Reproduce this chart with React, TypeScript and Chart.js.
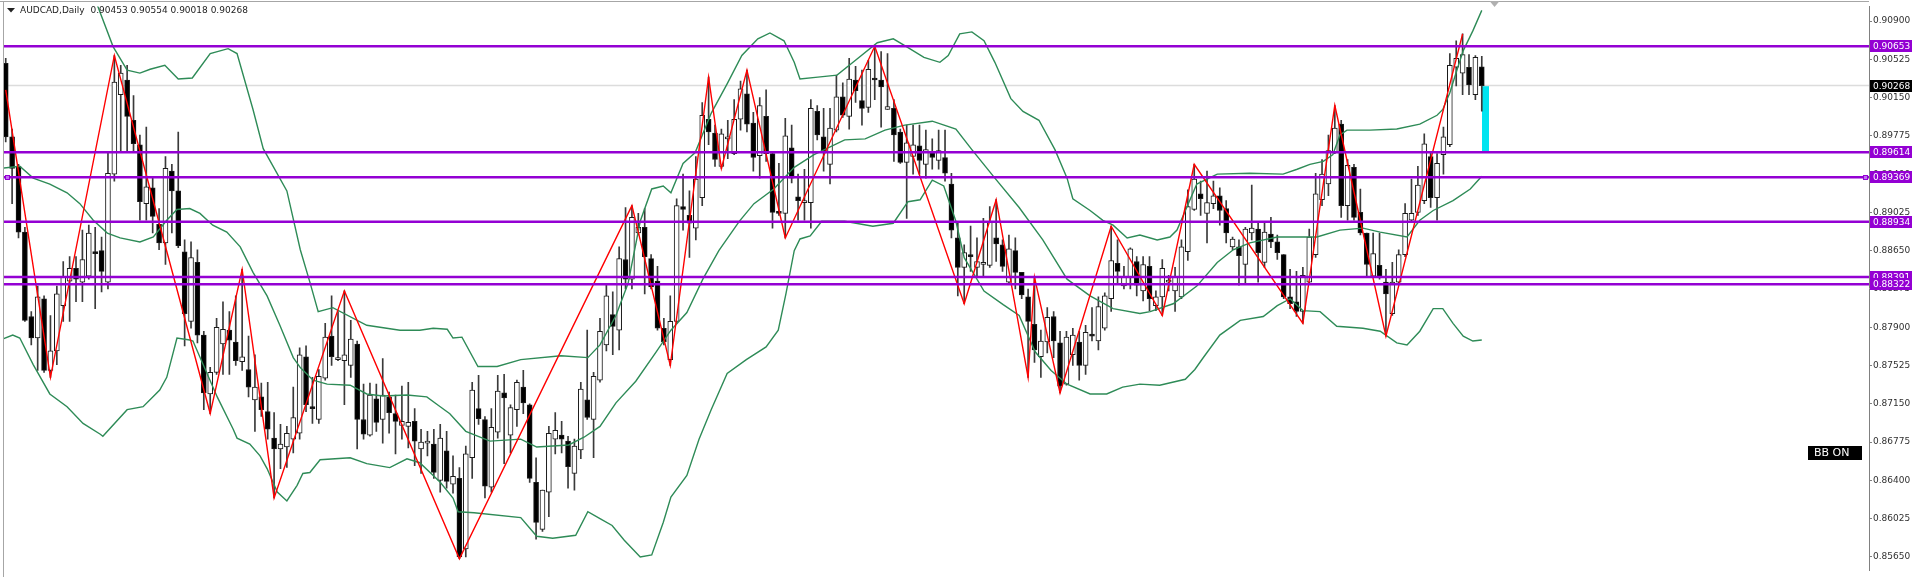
import React, { useEffect, useRef } from 'react';
import { Chart, registerables } from 'chart.js';

Chart.register(...registerables);

const symbol = 'AUDCAD';
const timeframe = 'Daily';

const opens = [
  0.90486, 0.89765, 0.89477, 0.88832, 0.88005, 0.87794, 0.88179, 0.87477, 0.87669, 0.88111,
  0.88352, 0.88477, 0.88342, 0.88400, 0.88631, 0.88650, 0.88342, 0.89400, 0.90178, 0.90323,
  0.89928, 0.89688, 0.89111, 0.89265, 0.88909, 0.88727, 0.89429, 0.89236, 0.88640, 0.87957,
  0.88535, 0.87823, 0.87246, 0.87457, 0.87736, 0.87871, 0.87755, 0.87563, 0.87486, 0.87188,
  0.87217, 0.87073, 0.86813, 0.86707, 0.86727, 0.86804, 0.86861, 0.87611, 0.87112, 0.86996,
  0.87400, 0.87813, 0.87582, 0.87573, 0.87525, 0.87736, 0.86996, 0.86842, 0.87198, 0.86996,
  0.87217, 0.87054, 0.86938, 0.86929, 0.86977, 0.86707, 0.86765, 0.86755, 0.86399, 0.86688,
  0.86361, 0.86419, 0.85727, 0.86621, 0.87102, 0.86996, 0.86332, 0.86871, 0.87256, 0.86842,
  0.87092, 0.87313, 0.87140, 0.86380, 0.85919, 0.86284, 0.86804, 0.86842, 0.86784, 0.86467,
  0.86698, 0.87188, 0.86996, 0.87381, 0.87727, 0.88025, 0.87871, 0.88564, 0.88371, 0.88823,
  0.88880, 0.88573, 0.88352, 0.87890, 0.87582, 0.87957, 0.89082, 0.88996, 0.88871, 0.89169,
  0.89938, 0.89803, 0.89477, 0.89746, 0.89601, 0.89938, 0.90188, 0.89900, 0.89582, 0.89967,
  0.89601, 0.89025, 0.89015, 0.89659, 0.89178, 0.89121, 0.89121, 0.90015, 0.89765, 0.89496,
  0.89832, 0.90159, 0.89967, 0.90323, 0.90121, 0.90053, 0.90342, 0.90323, 0.90034, 0.90044,
  0.89813, 0.89515, 0.89573, 0.89678, 0.89496, 0.89611, 0.89534, 0.89563, 0.89304, 0.88775,
  0.88486, 0.88602, 0.88486, 0.88515, 0.88506, 0.88775, 0.88707, 0.88342, 0.88650, 0.88438,
  0.88198, 0.87928, 0.87611, 0.87755, 0.88005, 0.87746, 0.87342, 0.87630, 0.87755, 0.87525,
  0.87823, 0.87765, 0.87890, 0.88179, 0.88525, 0.88304, 0.88390, 0.88544, 0.88256, 0.88496,
  0.88111, 0.88198, 0.88342, 0.88256, 0.88198, 0.88640, 0.89054, 0.89207, 0.89015, 0.89111,
  0.89188, 0.89063, 0.88688, 0.88688, 0.88515, 0.88823, 0.88861, 0.88535, 0.88813, 0.88736,
  0.88611, 0.88198, 0.88150, 0.88054, 0.88342, 0.88611, 0.89150, 0.89304, 0.89621, 0.89890,
  0.89092, 0.89467, 0.89025, 0.88823, 0.88400, 0.88506, 0.88342, 0.88034, 0.88342, 0.88611,
  0.88948, 0.89025, 0.89140, 0.89573, 0.89169, 0.89592, 0.89688, 0.90448, 0.90390, 0.90448,
  0.90178, 0.90453,
];

const highs = [
  0.90534, 0.89842, 0.89496, 0.88880, 0.88054, 0.88304, 0.88208, 0.88015, 0.88304, 0.88544,
  0.88592, 0.88592, 0.88852, 0.88900, 0.88880, 0.88784, 0.89621, 0.90563, 0.90467, 0.90467,
  0.90169, 0.89784, 0.89861, 0.89361, 0.89063, 0.89573, 0.89496, 0.89813, 0.88756, 0.88736,
  0.88659, 0.87861, 0.87506, 0.87986, 0.88150, 0.88054, 0.88208, 0.88467, 0.87813, 0.87630,
  0.87352, 0.87361, 0.87063, 0.86948, 0.86929, 0.87313, 0.87698, 0.87717, 0.87409, 0.87486,
  0.87938, 0.88208, 0.88054, 0.88256, 0.87967, 0.87765, 0.87342, 0.87352, 0.87342, 0.87592,
  0.87265, 0.87236, 0.87323, 0.87361, 0.87102, 0.86900, 0.86880, 0.86900, 0.86948, 0.86880,
  0.86640, 0.86525, 0.86736, 0.87361, 0.87429, 0.87025, 0.87102, 0.87429, 0.87438, 0.87140,
  0.87381, 0.87477, 0.87150, 0.86621, 0.86304, 0.86929, 0.87063, 0.86977, 0.86832, 0.86804,
  0.87361, 0.87871, 0.87457, 0.87986, 0.88323, 0.88246, 0.88688, 0.89073, 0.89092, 0.89015,
  0.89063, 0.88611, 0.88496, 0.87986, 0.88208, 0.89159, 0.89400, 0.89236, 0.89573, 0.90102,
  0.90351, 0.89880, 0.89842, 0.89928, 0.90130, 0.90313, 0.90419, 0.90005, 0.90150, 0.90227,
  0.89621, 0.89505, 0.89948, 0.89880, 0.89400, 0.89448, 0.90130, 0.90073, 0.90044, 0.90044,
  0.90371, 0.90294, 0.90534, 0.90457, 0.90419, 0.90515, 0.90653, 0.90601, 0.90582, 0.90130,
  0.89842, 0.89880, 0.89880, 0.89880, 0.89832, 0.89746, 0.89832, 0.89832, 0.89409, 0.88928,
  0.88707, 0.88890, 0.88775, 0.88967, 0.89082, 0.89150, 0.88756, 0.88804, 0.88775, 0.88438,
  0.88275, 0.88391, 0.87871, 0.88092, 0.88054, 0.87861, 0.87861, 0.87890, 0.87861, 0.87919,
  0.88092, 0.88198, 0.88236, 0.88890, 0.88756, 0.88496, 0.88679, 0.88592, 0.88592, 0.88592,
  0.88256, 0.88564, 0.88409, 0.88486, 0.88756, 0.89246, 0.89496, 0.89332, 0.89429, 0.89332,
  0.89265, 0.89140, 0.88784, 0.88756, 0.88880, 0.89294, 0.88928, 0.88928, 0.88977, 0.88804,
  0.88611, 0.88467, 0.88448, 0.88486, 0.88861, 0.89409, 0.89544, 0.89784, 0.90073, 0.89928,
  0.89544, 0.89496, 0.89255, 0.88823, 0.88823, 0.88823, 0.88467, 0.88535, 0.88659, 0.89111,
  0.89352, 0.89477, 0.89794, 0.89621, 0.89601, 0.89861, 0.90582, 0.90707, 0.90775, 0.90573,
  0.90563, 0.90554,
];

const lows = [
  0.89717, 0.89111, 0.88775, 0.87957, 0.87727, 0.87477, 0.87457, 0.87409, 0.87534, 0.87957,
  0.87957, 0.88150, 0.88150, 0.88371, 0.88082, 0.88246, 0.88275, 0.89332, 0.89621, 0.89621,
  0.89621, 0.88948, 0.88948, 0.88823, 0.88659, 0.88515, 0.88823, 0.88679, 0.87717, 0.87890,
  0.87746, 0.87092, 0.87054, 0.87438, 0.87438, 0.87438, 0.87525, 0.87477, 0.87217, 0.86880,
  0.87025, 0.86804, 0.86227, 0.86515, 0.86525, 0.86669, 0.86804, 0.87073, 0.86957, 0.86957,
  0.87381, 0.87525, 0.87573, 0.87140, 0.87409, 0.86707, 0.86804, 0.86832, 0.86880, 0.86765,
  0.86861, 0.86659, 0.86804, 0.86717, 0.86544, 0.86467, 0.86640, 0.86419, 0.86284, 0.86323,
  0.86275, 0.85631, 0.85650, 0.86419, 0.86948, 0.86227, 0.86284, 0.86813, 0.86563, 0.86669,
  0.86929, 0.87054, 0.86380, 0.85823, 0.85900, 0.86044, 0.86659, 0.86669, 0.86323, 0.86304,
  0.86611, 0.86996, 0.86621, 0.87361, 0.87669, 0.87630, 0.87678, 0.88275, 0.88275, 0.88804,
  0.88227, 0.88275, 0.87871, 0.87727, 0.87525, 0.87938, 0.88852, 0.88583, 0.88756, 0.89092,
  0.89688, 0.89477, 0.89457, 0.89553, 0.89592, 0.89832, 0.89813, 0.89429, 0.89361, 0.89525,
  0.88871, 0.88996, 0.88775, 0.89313, 0.88948, 0.88948, 0.88871, 0.89736, 0.89429, 0.89304,
  0.89813, 0.89957, 0.89842, 0.90102, 0.89880, 0.90005, 0.90130, 0.89861, 0.90034, 0.89525,
  0.89505, 0.88967, 0.89400, 0.89400, 0.89361, 0.89448, 0.89448, 0.89332, 0.88775, 0.88208,
  0.88131, 0.88448, 0.88390, 0.88390, 0.88486, 0.88544, 0.88448, 0.88323, 0.88275, 0.88179,
  0.87409, 0.87554, 0.87409, 0.87649, 0.87601, 0.87256, 0.87332, 0.87525, 0.87381, 0.87438,
  0.87765, 0.87678, 0.87871, 0.88054, 0.88323, 0.88275, 0.88275, 0.88208, 0.88159, 0.88063,
  0.88063, 0.88015, 0.88256, 0.88054, 0.88179, 0.88554, 0.89044, 0.88996, 0.88727, 0.89063,
  0.88900, 0.88727, 0.88659, 0.88313, 0.88323, 0.88756, 0.88342, 0.88486, 0.88679, 0.88564,
  0.88179, 0.88082, 0.88005, 0.87938, 0.88323, 0.88583, 0.89092, 0.89188, 0.89601, 0.88977,
  0.88948, 0.88948, 0.88804, 0.88400, 0.88400, 0.88371, 0.87813, 0.88015, 0.88323, 0.88592,
  0.88928, 0.88996, 0.89111, 0.89073, 0.88948, 0.89400, 0.89669, 0.90265, 0.90178, 0.90178,
  0.90130, 0.90018,
];

const closes = [
  0.89765, 0.89457, 0.88832, 0.87967, 0.87794, 0.88198, 0.87477, 0.87669, 0.88227, 0.88390,
  0.88477, 0.88371, 0.88564, 0.88823, 0.88621, 0.88448, 0.89409, 0.90303, 0.90390, 0.89967,
  0.89698, 0.89130, 0.89275, 0.88986, 0.88727, 0.89457, 0.89236, 0.88698, 0.88034, 0.88583,
  0.87823, 0.87256, 0.87457, 0.87899, 0.87880, 0.87774, 0.87573, 0.87611, 0.87313, 0.87313,
  0.87092, 0.86900, 0.86707, 0.86755, 0.86861, 0.87015, 0.87630, 0.87140, 0.87102, 0.87419,
  0.87803, 0.87611, 0.87582, 0.87630, 0.87784, 0.86996, 0.86852, 0.87236, 0.86967, 0.87236,
  0.87063, 0.86977, 0.86977, 0.86967, 0.86784, 0.86775, 0.86765, 0.86477, 0.86813, 0.86390,
  0.86438, 0.85650, 0.86659, 0.87284, 0.87005, 0.86342, 0.86919, 0.87275, 0.87207, 0.87112,
  0.87361, 0.87159, 0.86419, 0.85986, 0.86304, 0.86861, 0.86890, 0.86804, 0.86534, 0.86736,
  0.87294, 0.87015, 0.87419, 0.87861, 0.88208, 0.87909, 0.88573, 0.88371, 0.88977, 0.88880,
  0.88592, 0.88294, 0.87890, 0.87755, 0.87957, 0.89092, 0.89054, 0.88919, 0.89352, 0.89977,
  0.89813, 0.89544, 0.89794, 0.89746, 0.89938, 0.90236, 0.89890, 0.89563, 0.90073, 0.89601,
  0.89025, 0.89015, 0.89775, 0.89361, 0.89140, 0.89140, 0.90044, 0.89784, 0.89630, 0.89851,
  0.90159, 0.89977, 0.90332, 0.90217, 0.90044, 0.90428, 0.90323, 0.90255, 0.90063, 0.89784,
  0.89515, 0.89707, 0.89688, 0.89534, 0.89640, 0.89563, 0.89630, 0.89409, 0.88852, 0.88486,
  0.88631, 0.88592, 0.88544, 0.88535, 0.88938, 0.88717, 0.88496, 0.88669, 0.88438, 0.88217,
  0.87957, 0.87678, 0.87765, 0.87996, 0.87765, 0.87323, 0.87803, 0.87823, 0.87525, 0.87851,
  0.87813, 0.88102, 0.88208, 0.88554, 0.88448, 0.88390, 0.88669, 0.88313, 0.88515, 0.88179,
  0.88198, 0.88477, 0.88342, 0.88390, 0.88688, 0.89082, 0.89352, 0.89159, 0.89121, 0.89188,
  0.89044, 0.88823, 0.88765, 0.88602, 0.88861, 0.88871, 0.88631, 0.88832, 0.88736, 0.88631,
  0.88198, 0.88131, 0.88054, 0.88409, 0.88784, 0.89207, 0.89400, 0.89630, 0.89851, 0.89092,
  0.89486, 0.88977, 0.88823, 0.88515, 0.88621, 0.88390, 0.88227, 0.88342, 0.88611, 0.89015,
  0.89015, 0.89294, 0.89698, 0.89169, 0.89505, 0.89765, 0.90467, 0.90534, 0.90573, 0.90275,
  0.90544, 0.90268,
];

// Bollinger bands: [bar index, price]
const bbUpper = [
  [11.5, 0.91525], [14.3, 0.91063], [16.8, 0.9065], [19.0, 0.90419], [21.0, 0.9039], [22.6, 0.90428],
  [24.9, 0.90467], [27.0, 0.90332], [29.2, 0.90342], [32.0, 0.90582], [34.8, 0.9063], [36.2, 0.90582],
  [38.7, 0.90034], [40.3, 0.8965], [44.0, 0.89236], [46.1, 0.88659], [47.6, 0.88342], [48.9, 0.88053],
  [51.2, 0.88092], [56.5, 0.87919], [61.7, 0.87871], [64.8, 0.87871], [66.9, 0.8789], [69.1, 0.8788],
  [70.0, 0.87794], [71.4, 0.87803], [73.9, 0.87515], [76.9, 0.87515], [80.6, 0.87582], [86.9, 0.87621],
  [91.1, 0.87602], [93.0, 0.87727], [95.5, 0.88015], [97.4, 0.8833], [99.3, 0.88938], [101.1, 0.89255],
  [102.9, 0.89284], [104.1, 0.89217], [106.0, 0.89505], [107.9, 0.89611], [110.4, 0.89996], [112.9, 0.90284],
  [115.2, 0.90563], [117.7, 0.90726], [119.6, 0.90784], [121.8, 0.90707], [123.4, 0.90496], [124.3, 0.90332],
  [127.1, 0.90351], [130.1, 0.90371], [132.6, 0.90496], [136.4, 0.90688], [138.9, 0.90726], [140.7, 0.90659],
  [143.7, 0.90544], [146.2, 0.90496], [147.5, 0.90563], [149.3, 0.90775], [151.2, 0.90794], [153.1, 0.90707],
  [154.8, 0.90496], [157.3, 0.9014], [159.2, 0.90015], [161.7, 0.89928], [164.2, 0.8964], [166.1, 0.89361],
  [167.0, 0.89159], [169.7, 0.89044], [171.7, 0.88948], [173.3, 0.889], [175.5, 0.88775], [177.5, 0.88803],
  [180.2, 0.88755], [182.2, 0.88784], [183.3, 0.88852], [186.4, 0.89303], [189.6, 0.894], [194.7, 0.89409],
  [199.9, 0.894], [202.1, 0.89448], [204.1, 0.89496], [206.2, 0.89525], [207.7, 0.89592], [208.8, 0.89784],
  [209.9, 0.89832], [213.5, 0.89832], [217.7, 0.89842], [221.3, 0.8989], [224.0, 0.89977], [224.9, 0.90034],
  [226.0, 0.90198], [227.1, 0.90419], [228.1, 0.90611], [229.6, 0.90804], [231.0, 0.91005],
];

const bbMiddle = [
  [-0.9, 0.89457], [2.2, 0.89477], [4.3, 0.89361], [6.9, 0.89303], [9.6, 0.89217], [11.6, 0.89111],
  [13.7, 0.88948], [15.9, 0.88823], [17.9, 0.88775], [21.0, 0.88736], [23.1, 0.88784], [25.2, 0.88948],
  [26.8, 0.89054], [28.8, 0.89063], [30.4, 0.89015], [32.4, 0.889], [34.6, 0.88832], [36.7, 0.88688],
  [38.7, 0.88438], [40.9, 0.88207], [42.9, 0.87919], [45.0, 0.87602], [46.1, 0.87505], [48.1, 0.87381],
  [50.3, 0.87342], [53.9, 0.87332], [56.5, 0.87246], [59.0, 0.87226], [62.8, 0.87236], [65.9, 0.87217],
  [68.0, 0.87121], [69.5, 0.87053], [72.0, 0.8688], [75.8, 0.86784], [80.6, 0.86803], [83.1, 0.86726],
  [88.1, 0.86746], [90.5, 0.86822], [93.0, 0.86928], [95.5, 0.87159], [98.6, 0.87371], [101.8, 0.87659],
  [104.1, 0.87871], [106.6, 0.88044], [109.1, 0.88371], [111.6, 0.8865], [114.8, 0.88938], [117.1, 0.89111],
  [120.2, 0.89255], [123.4, 0.89467], [126.5, 0.89592], [131.3, 0.89736], [134.5, 0.89746], [137.6, 0.89832],
  [140.7, 0.8988], [145.0, 0.89919], [148.7, 0.89842], [151.2, 0.8964], [154.8, 0.89361], [158.6, 0.89073],
  [162.3, 0.88756], [166.1, 0.88371], [169.7, 0.88207], [173.3, 0.88082], [177.5, 0.88034], [179.1, 0.88053],
  [182.7, 0.8813], [186.4, 0.88303], [189.6, 0.88534], [192.1, 0.88659], [194.7, 0.88726], [199.0, 0.88784],
  [202.1, 0.88784], [205.2, 0.88784], [208.8, 0.88852], [212.4, 0.88871], [215.1, 0.88832], [219.3, 0.88784],
  [221.3, 0.88948], [223.4, 0.89044], [226.5, 0.8914], [229.2, 0.89255], [231.0, 0.8938],
];

const bbLower = [
  [-0.9, 0.87775], [1.1, 0.87823], [2.2, 0.87794], [4.3, 0.87534], [6.9, 0.87246], [9.6, 0.87121],
  [12.1, 0.86957], [14.8, 0.86851], [15.2, 0.86832], [19.0, 0.87092], [21.5, 0.87121], [24.1, 0.87284],
  [25.2, 0.87409], [26.8, 0.87794], [28.8, 0.87775], [29.3, 0.87765], [33.1, 0.87217], [35.6, 0.869],
  [36.2, 0.86813], [38.2, 0.86755], [39.8, 0.8664], [40.9, 0.86515], [42.5, 0.86284], [44.0, 0.86198],
  [45.6, 0.86351], [46.5, 0.86467], [47.6, 0.86476], [49.2, 0.86601], [53.9, 0.86621], [56.5, 0.86563],
  [60.1, 0.86524], [62.8, 0.86611], [64.8, 0.86572], [68.0, 0.8638], [70.0, 0.86226], [70.8, 0.86092],
  [73.3, 0.86082], [80.6, 0.86034], [83.1, 0.85851], [85.6, 0.85832], [89.2, 0.85861], [91.1, 0.86092],
  [93.0, 0.86024], [94.9, 0.85957], [96.8, 0.85813], [99.3, 0.85649], [101.1, 0.85669], [102.9, 0.85986],
  [104.1, 0.86236], [106.6, 0.86448], [108.5, 0.86803], [110.4, 0.87092], [112.9, 0.87448], [115.9, 0.87582],
  [119.0, 0.87707], [120.9, 0.87871], [122.1, 0.88226], [123.4, 0.8865], [124.3, 0.88765], [125.9, 0.88794],
  [127.7, 0.88938], [131.3, 0.88938], [135.7, 0.8889], [138.9, 0.88919], [141.2, 0.8913], [143.1, 0.89149],
  [145.0, 0.89342], [146.8, 0.89284], [148.7, 0.88938], [150.0, 0.88582], [153.1, 0.88255], [156.1, 0.88121],
  [158.6, 0.88015], [161.1, 0.87659], [163.6, 0.87476], [166.1, 0.87342], [169.7, 0.87246], [172.3, 0.87246],
  [174.8, 0.87313], [177.5, 0.87342], [180.6, 0.87332], [184.6, 0.8739], [186.1, 0.87486], [187.4, 0.87601],
  [190.0, 0.87823], [193.2, 0.87967], [196.8, 0.88005], [199.0, 0.88111], [201.0, 0.88179], [203.0, 0.88063],
  [205.7, 0.88053], [208.3, 0.87909], [212.4, 0.8789], [215.1, 0.87861], [217.7, 0.87746], [219.3, 0.87726],
  [221.3, 0.87861], [223.4, 0.88082], [224.9, 0.88082], [226.5, 0.87938], [228.1, 0.87813], [229.6, 0.87765],
  [231.0, 0.87775],
];

// ZigZag pivots: [bar index, price]
const zigzag = [
  [0, 0.90227], [7, 0.87409], [17, 0.90563], [32, 0.87054], [37, 0.88467], [42, 0.86227],
  [53, 0.88256], [71, 0.85631], [98, 0.89092], [104, 0.87525], [110, 0.90351], [112, 0.89457],
  [116, 0.90419], [122, 0.88775], [136, 0.90653], [150, 0.88131], [155, 0.8915], [160, 0.87409],
  [161, 0.88391], [165, 0.87256], [173, 0.8889], [181, 0.88015], [186, 0.89496], [203, 0.87938],
  [208, 0.90073], [216, 0.87813], [228, 0.90775],
];

const levelLines = [0.90653, 0.89614, 0.89369, 0.88934, 0.88391, 0.88322];
const selectedLevel = 0.89369;
const priceTicks = [
  0.909, 0.90525, 0.9015, 0.89775, 0.894, 0.89025, 0.8865, 0.88275,
  0.879, 0.87525, 0.8715, 0.86775, 0.864, 0.86025, 0.8565,
];
const rangeBar = [0.89614, 0.90268];
const badgeText = 'BB ON';

const LAST = closes.length - 1;
const bidPrice = closes[LAST];
const Y_MIN = 0.85515;
const Y_MAX = 0.91044;
const X_MIN = -0.27;
const X_MAX = 291.6;

const FONT = "'DejaVu Sans', sans-serif";

const decorPlugin = {
  id: 'decor',
  beforeDatasetsDraw(chart: any) {
    const { ctx, scales } = chart;
    const xs = scales.x;
    const ys = scales.y;
    const xc = xs.getPixelForValue(LAST);
    const yTop = ys.getPixelForValue(rangeBar[1]);
    const yBot = ys.getPixelForValue(rangeBar[0]);
    ctx.save();
    ctx.fillStyle = 'rgb(0,228,240)';
    ctx.fillRect(Math.round(xc), yTop, 7, yBot - yTop);
    ctx.restore();
  },
  afterDraw(chart: any) {
    const { ctx, chartArea: a, scales, width: W } = chart;
    const xs = scales.x;
    const ys = scales.y;
    ctx.save();
    // frame
    ctx.fillStyle = '#a6a6a6';
    ctx.fillRect(0, 1, a.right, 1);
    ctx.fillRect(3, 1, 1, chart.height);

    ctx.font = `9px ${FONT}`;
    ctx.textBaseline = 'middle';
    ctx.textAlign = 'left';

    // level labels on the price axis
    levelLines.forEach((v) => {
      const y = Math.round(ys.getPixelForValue(v));
      ctx.fillStyle = '#9400d3';
      ctx.fillRect(a.right + 1, y - 6, W - a.right - 1, 12);
      ctx.fillStyle = '#ffffff';
      ctx.fillText(v.toFixed(5), a.right + 4, y + 0.5);
    });

    // bid label
    {
      const y = Math.round(ys.getPixelForValue(bidPrice));
      ctx.fillStyle = '#000000';
      ctx.fillRect(a.right + 1, y - 6, W - a.right - 1, 12);
      ctx.fillStyle = '#ffffff';
      ctx.fillText(bidPrice.toFixed(5), a.right + 4, y + 0.5);
    }

    // selection handles on selected level
    {
      const y = Math.round(ys.getPixelForValue(selectedLevel));
      ctx.fillStyle = '#c070f0';
      ctx.strokeStyle = '#9400d3';
      ctx.lineWidth = 1;
      [a.left + 1, a.right - 6].forEach((x) => {
        ctx.fillRect(x, y - 2, 5, 5);
        ctx.strokeRect(x + 0.5, y - 1.5, 4, 4);
      });
    }

    // BB ON badge
    ctx.fillStyle = '#000000';
    ctx.fillRect(a.right - 61, 446, 54, 14);
    ctx.fillStyle = '#ffffff';
    ctx.font = `11px ${FONT}`;
    ctx.fillText(badgeText, a.right - 55, 453.5);

    // title
    ctx.fillStyle = '#222222';
    ctx.beginPath();
    ctx.moveTo(7, 8);
    ctx.lineTo(15, 8);
    ctx.lineTo(11, 12.5);
    ctx.closePath();
    ctx.fill();
    ctx.font = `9px ${FONT}`;
    const title = `${symbol},${timeframe}  ${opens[LAST].toFixed(5)} ${highs[LAST].toFixed(5)} ${lows[LAST].toFixed(5)} ${closes[LAST].toFixed(5)}`;
    ctx.fillText(title, 20, 10.5);

    // chart shift marker
    const sx = xs.getPixelForValue(LAST + 2);
    ctx.fillStyle = '#b0b0b0';
    ctx.beginPath();
    ctx.moveTo(sx - 5, 1);
    ctx.lineTo(sx + 5, 1);
    ctx.lineTo(sx, 7);
    ctx.closePath();
    ctx.fill();
    ctx.restore();
  },
};

export default function App() {
  const ref = useRef<HTMLCanvasElement | null>(null);

  useEffect(() => {
    if (!ref.current) return;
    const idx = closes.map((_, i) => i);
    const line = (data: number[][], color: string, width: number, order: number) => ({
      type: 'line' as const,
      data: data.map(([x, y]) => ({ x, y })),
      borderColor: color,
      borderWidth: width,
      pointRadius: 0,
      tension: 0,
      fill: false,
      order,
    });
    const hline = (v: number, color: string, width: number, order: number) =>
      line([[X_MIN, v], [X_MAX, v]], color, width, order);

    const chart = new Chart(ref.current, {
      type: 'line',
      data: {
        datasets: [
          hline(bidPrice, '#dcdcdc', 1.5, 20) as any,
          {
            type: 'bar',
            data: idx.map((i) => ({ x: i, y: [lows[i], highs[i]] })),
            backgroundColor: '#3a3a3a',
            barThickness: 1,
            grouped: false,
            minBarLength: 1,
            order: 12,
          },
          {
            type: 'bar',
            data: idx.map((i) => ({ x: i, y: [opens[i], closes[i]] })),
            backgroundColor: idx.map((i) => (closes[i] >= opens[i] ? '#ffffff' : '#000000')),
            borderColor: '#1a1a1a',
            borderWidth: 1,
            borderSkipped: false,
            barThickness: 5,
            grouped: false,
            minBarLength: 2,
            order: 11,
          },
          line(bbUpper, '#2e8b57', 1.4, 6),
          line(bbMiddle, '#2e8b57', 1.4, 6),
          line(bbLower, '#2e8b57', 1.4, 6),
          line(zigzag, '#ff0000', 1.4, 5),
          ...levelLines.map((v) => hline(v, '#9400d3', 2.5, 2)),
        ] as any,
      },
      options: {
        responsive: false,
        animation: false,
        devicePixelRatio: 1,
        events: [],
        layout: { padding: { left: 4, top: 2, right: 0, bottom: 0 } },
        plugins: { legend: { display: false }, tooltip: { enabled: false } },
        scales: {
          x: { type: 'linear', min: X_MIN, max: X_MAX, display: false, offset: false },
          y: {
            type: 'linear',
            position: 'right',
            min: Y_MIN,
            max: Y_MAX,
            beginAtZero: false,
            afterFit: (s: any) => {
              s.width = 43;
            },
            afterBuildTicks: (s: any) => {
              s.ticks = priceTicks.map((v) => ({ value: v }));
            },
            border: { display: true, color: '#808080', width: 1 },
            grid: { drawOnChartArea: false, drawTicks: true, tickLength: 3, color: '#808080' },
            ticks: {
              autoSkip: false,
              padding: 1,
              color: '#303030',
              font: { family: 'DejaVu Sans', size: 9 },
              callback: (v: any) => Number(v).toFixed(5),
            },
          },
        },
      } as any,
      plugins: [decorPlugin],
    });
    return () => chart.destroy();
  }, []);

  return (
    <div style={{ position: 'fixed', left: 0, top: 0, width: 1912, height: 577, background: '#ffffff' }}>
      <canvas ref={ref} width={1912} height={577} style={{ display: 'block' }} />
    </div>
  );
}
